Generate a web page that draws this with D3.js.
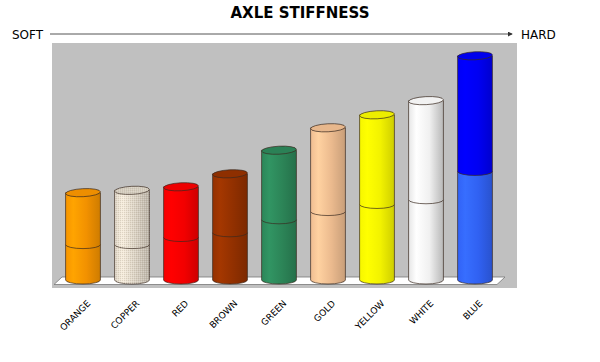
<!DOCTYPE html>
<html>
<head>
<meta charset="utf-8">
<script src="https://cdn.jsdelivr.net/npm/d3@7"></script>
<style>
  body { margin: 0; background: #fff; }
  text { font-family: "DejaVu Sans", Verdana, sans-serif; }
</style>
</head>
<body>
<div id="chart"></div>
<script>
// data (stacked: lower part + upper part)
const categories = ["ORANGE", "COPPER", "RED", "BROWN", "GREEN", "GOLD", "YELLOW", "WHITE", "BLUE"];
const lowerValues = [15, 15, 18, 20, 25.5, 29, 32, 34, 46];
const upperValues = [22, 23, 21.5, 25, 29.5, 35.5, 38, 42, 49];

const lowerColors = ["#ff9900", "#e6ddcd", "#ff0000", "#993300", "#2e8b5c", "#f8c496", "#ffff00", "#ffffff", "#3366ff"];
const upperColors = ["#ff9900", "#e6ddcd", "#ff0000", "#993300", "#2e8b5c", "#f8c496", "#ffff00", "#ffffff", "#0000ff"];

const width = 600, height = 362;
const plot = { left: 52, right: 517, top: 43, bottom: 288 };
const baseY = 280, ry = 4;

const svg = d3.select('#chart').append('svg')
    .attr('width', width)
    .attr('height', height);

const defs = svg.append('defs');

const x = d3.scaleBand()
    .domain(categories)
    .range([58.5, 499.5])
    .paddingInner(0.29)
    .paddingOuter(0.145);

const y = d3.scaleLinear()
    .domain([0, 100])
    .range([baseY, 44]);

const rx = x.bandwidth() / 2;

// gradients, one per colour
function gradId(c) { return 'g' + c.replace('#', ''); }
const allColors = Array.from(new Set(lowerColors.concat(upperColors)));
allColors.forEach(c => {
    const col = d3.color(c);
    const g = defs.append('linearGradient').attr('id', gradId(c))
        .attr('x1', '0%').attr('x2', '100%').attr('y1', '0%').attr('y2', '0%');
    const isWhite = c === '#ffffff';
    const stops = isWhite
        ? [[0, '#e6e6e6'], [0.22, '#ffffff'], [0.6, '#f0f0f0'], [1, '#b8b8b8']]
        : [[0, col.darker(0.1)], [0.22, col.brighter(0.2)], [0.6, col.darker(0.15)], [1, col.darker(0.6)]];
    stops.forEach(s => g.append('stop').attr('offset', s[0]).attr('stop-color', s[1]));
});

// fine stipple texture for copper
const pat = defs.append('pattern').attr('id', 'dots')
    .attr('width', 2).attr('height', 2).attr('patternUnits', 'userSpaceOnUse');
pat.append('rect').attr('x', 0).attr('y', 0).attr('width', 1).attr('height', 1).attr('fill', '#8a8070').attr('opacity', 0.22);
pat.append('rect').attr('x', 1).attr('y', 1).attr('width', 1).attr('height', 1).attr('fill', '#ffffff').attr('opacity', 0.25);

// title
svg.append('text')
    .attr('x', 300).attr('y', 18)
    .attr('text-anchor', 'middle')
    .attr('font-size', 15).attr('font-weight', 'bold')
    .text('AXLE STIFFNESS');

// soft -> hard arrow
defs.append('marker').attr('id', 'arrow')
    .attr('viewBox', '0 0 6 6').attr('refX', 5).attr('refY', 3)
    .attr('markerWidth', 5).attr('markerHeight', 5).attr('orient', 'auto')
    .append('path').attr('d', 'M0,0 L6,3 L0,6 Z').attr('fill', '#333');

svg.append('line')
    .attr('x1', 50).attr('x2', 512).attr('y1', 34).attr('y2', 34)
    .attr('stroke', '#555').attr('stroke-width', 1)
    .attr('marker-end', 'url(#arrow)');

svg.append('text').attr('x', 12).attr('y', 38.5).attr('font-size', 12).text('SOFT');
svg.append('text').attr('x', 521).attr('y', 38.5).attr('font-size', 12).text('HARD');

// plot background
svg.append('rect')
    .attr('x', plot.left).attr('y', plot.top)
    .attr('width', plot.right - plot.left).attr('height', plot.bottom - plot.top)
    .attr('fill', '#c0c0c0');

// floor
svg.append('path')
    .attr('d', `M54,284.5 L62,277 L505,277 L497,284.5 Z`)
    .attr('fill', '#ffffff').attr('stroke', '#777').attr('stroke-width', 0.8);

function segPath(cx, y0, y1) {
    return `M${cx - rx},${y1} L${cx - rx},${y0} A${rx},${ry} 0 0 0 ${cx + rx},${y0} L${cx + rx},${y1} Z`;
}

const bars = categories.map((c, i) => ({
    name: c,
    lower: lowerValues[i],
    upper: upperValues[i],
    lc: lowerColors[i],
    uc: upperColors[i]
}));

const g = svg.append('g');
bars.forEach(d => {
    const cx = x(d.name) + rx;
    const y0 = y(0), y1 = y(d.lower), y2 = y(d.lower + d.upper);
    const cyl = g.append('g');
    [[y0, y1, d.lc], [y1, y2, d.uc]].forEach(s => {
        cyl.append('path')
            .attr('d', segPath(cx, s[0], s[1]))
            .attr('fill', `url(#${gradId(s[2])})`)
            .attr('stroke', '#3a2a20').attr('stroke-width', 0.7);
        if (d.name === 'COPPER') {
            cyl.append('path').attr('d', segPath(cx, s[0], s[1])).attr('fill', 'url(#dots)');
        }
    });
    const topCol = d.uc === '#ffffff' ? '#f2f2f2' : d3.color(d.uc).darker(0.2);
    cyl.append('ellipse')
        .attr('cx', cx).attr('cy', y2)
        .attr('rx', rx).attr('ry', ry)
        .attr('transform', `rotate(-3 ${cx} ${y2})`)
        .attr('fill', topCol)
        .attr('stroke', '#3a2a20').attr('stroke-width', 0.7);
    if (d.name === 'COPPER') {
        cyl.append('ellipse').attr('cx', cx).attr('cy', y2).attr('rx', rx).attr('ry', ry)
            .attr('transform', `rotate(-3 ${cx} ${y2})`).attr('fill', 'url(#dots)');
    }
});

// category labels, rotated
svg.append('g').selectAll('text')
    .data(categories).enter().append('text')
    .attr('text-anchor', 'end')
    .attr('font-size', 9)
    .attr('transform', d => `translate(${x(d) + rx + 8},${304}) rotate(-45)`)
    .text(d => d);
</script>
</body>
</html>
